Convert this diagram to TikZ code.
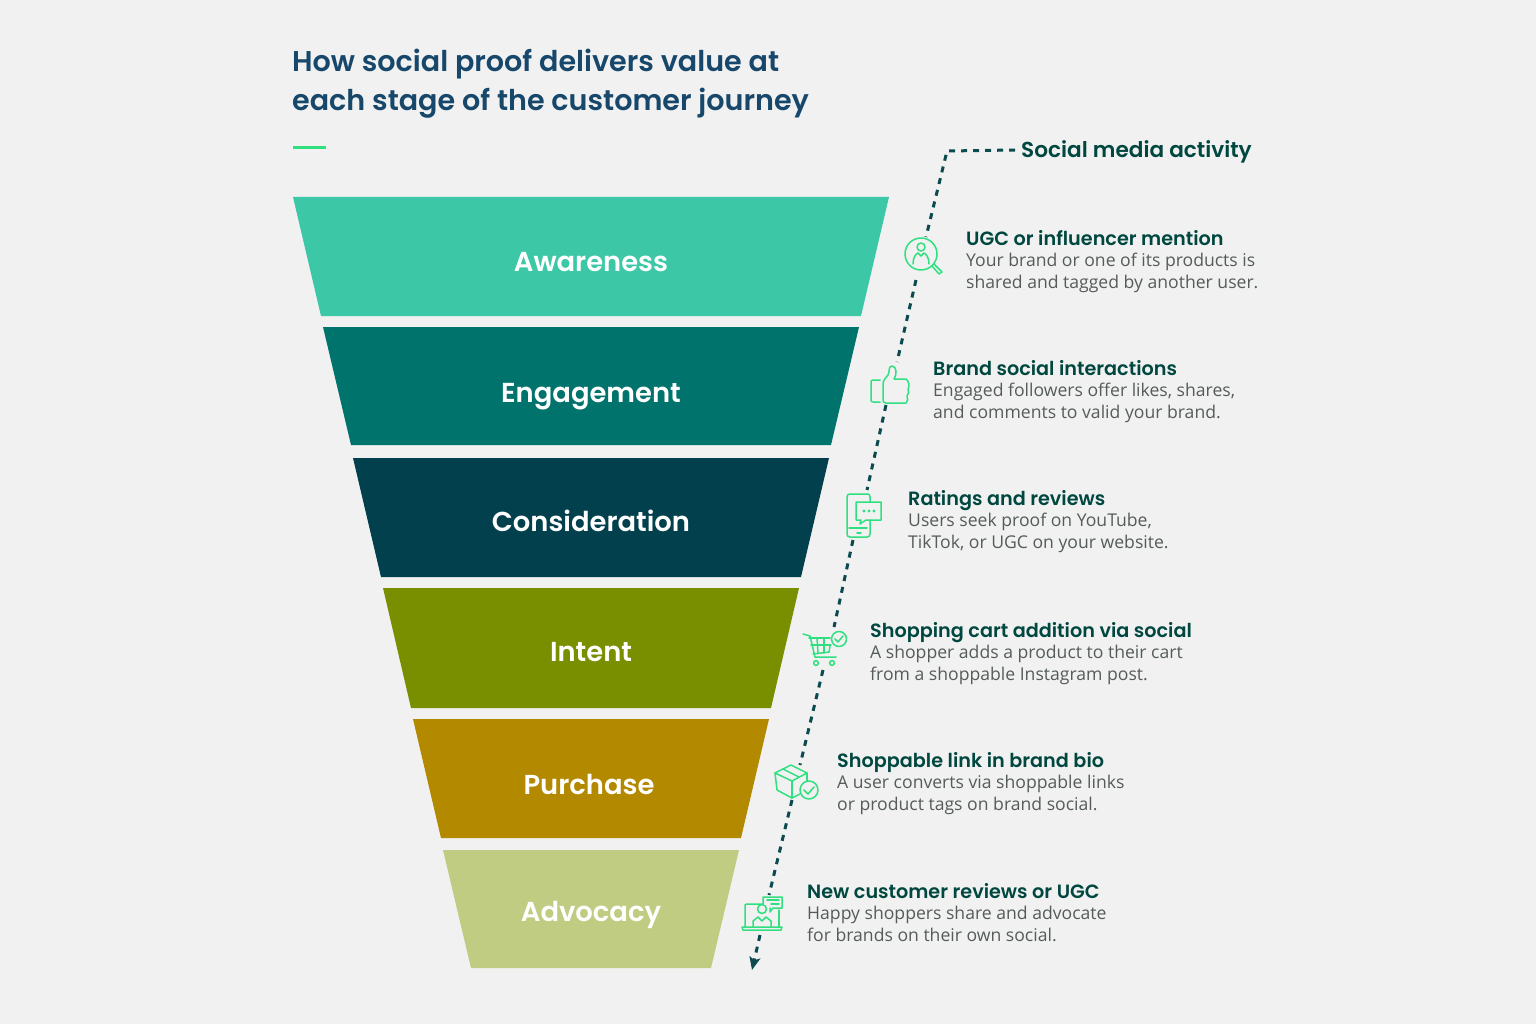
\documentclass[tikz,border=0pt]{standalone}
\usepackage{fontspec}
\setmainfont{Open Sans}
\newfontfamily\headfont{Poppins SemiBold}
\definecolor{pagebg}{HTML}{F1F1F1}
\definecolor{titleblue}{HTML}{17476A}
\definecolor{headgreen}{HTML}{00473F}
\definecolor{bodygrey}{HTML}{555B5B}
\definecolor{icongreen}{HTML}{30E080}
\definecolor{dashteal}{HTML}{0B4A4F}
\definecolor{awareC}{HTML}{3CC8A6}
\definecolor{engageC}{HTML}{01736D}
\definecolor{considerC}{HTML}{02404D}
\definecolor{intentC}{HTML}{7A8F00}
\definecolor{purchaseC}{HTML}{B38900}
\definecolor{advocacyC}{HTML}{BFCC82}
\usetikzlibrary{arrows.meta}
\tikzset{
  stagelabel/.style={anchor=base,text=white,font=\headfont\fontsize{27.4}{32}\selectfont,inner sep=0pt},
  activitytext/.style={anchor=north west,inner sep=0pt,align=left,text=bodygrey,font=\fontsize{17.6}{21.5}\selectfont},
  iconline/.style={draw=icongreen,line width=1.5pt,line join=round,line cap=round},
  journeyline/.style={draw=dashteal,line width=3pt,dash pattern=on 6pt off 6pt},
}
\newcommand{\acthead}[1]{{\headfont\fontsize{19.2}{21.5}\selectfont\color{headgreen}#1}}
\begin{document}
\begin{tikzpicture}[x=1pt,y=-1pt]
\fill[pagebg] (0,0) rectangle (1536,1024);
\useasboundingbox (0,0) rectangle (1536,1024);
% title
\node[anchor=north west,inner sep=0pt,align=left,text=titleblue,font=\headfont\fontsize{28.6}{39}\selectfont] (title) at (292,49) {How social proof delivers value at\\each stage of the customer journey};
\coordinate (ruleL) at (293,148);
\coordinate (ruleR) at (326,148);
\draw[icongreen,line width=3pt] (ruleL) -- (ruleR);
% funnel
\fill[awareC] (293,197) -- (889,197) -- (861,316) -- (321,316) -- cycle;
\fill[engageC] (323,327) -- (859,327) -- (831,445) -- (351,445) -- cycle;
\fill[considerC] (353,458) -- (829,458) -- (801,577) -- (381,577) -- cycle;
\fill[intentC] (383,588) -- (799,588) -- (771,708) -- (411,708) -- cycle;
\fill[purchaseC] (413,719) -- (769,719) -- (741,838) -- (441,838) -- cycle;
\fill[advocacyC] (443,850) -- (739,850) -- (711,968) -- (471,968) -- cycle;
\node[stagelabel] (awareness) at (591,272) {Awareness};
\node[stagelabel] (engagement) at (591,402) {Engagement};
\node[stagelabel] (consideration) at (591,531) {Consideration};
\node[stagelabel] (intent) at (591,661) {Intent};
\node[stagelabel] (purchase) at (589,794) {Purchase};
\node[stagelabel] (advocacy) at (591,921) {Advocacy};
% activity texts
\node[anchor=west,inner sep=0pt,font=\headfont\fontsize{21.6}{26}\selectfont,text=headgreen] (socialmedia) at (1021,152) {Social media activity};
\node[activitytext] (ugc) at (966,230) {\acthead{UGC or influencer mention}\\Your brand or one of its products is\\shared and tagged by another user.};
\node[activitytext] (brand) at (933,360) {\acthead{Brand social interactions}\\Engaged followers offer likes, shares,\\and comments to valid your brand.};
\node[activitytext] (ratings) at (908,490) {\acthead{Ratings and reviews}\\Users seek proof on YouTube,\\TikTok, or UGC on your website.};
\node[activitytext] (cart) at (870,622) {\acthead{Shopping cart addition via social}\\A shopper adds a product to their cart\\from a shoppable Instagram post.};
\node[activitytext] (link) at (837,752) {\acthead{Shoppable link in brand bio}\\A user converts via shoppable links\\or product tags on brand social.};
\node[activitytext] (newcust) at (807,883) {\acthead{New customer reviews or UGC}\\Happy shoppers share and advocate\\for brands on their own social.};
% journey line
\coordinate (lineA) at (1015,150);
\coordinate (lineB) at (947,151);
\coordinate (lineC) at (926,237);
\coordinate (lineD) at (916,280);
\coordinate (lineE) at (897,362);
\coordinate (lineF) at (886,405);
\coordinate (lineG) at (867,490);
\coordinate (lineH) at (853,540);
\coordinate (lineI) at (834,627);
\coordinate (lineJ) at (823,670);
\coordinate (lineK) at (800,765);
\coordinate (lineL) at (792,800);
\coordinate (lineM) at (769,895);
\coordinate (lineN) at (760,935);
\coordinate (lineO) at (752,970);
\draw[journeyline] (lineA) -- (lineB) -- (lineC);
\draw[journeyline] (lineD) -- (lineE);
\draw[journeyline] (lineF) -- (lineG);
\draw[journeyline] (lineH) -- (lineI);
\draw[journeyline] (lineJ) -- (lineK);
\draw[journeyline] (lineL) -- (lineM);
\draw[journeyline,-{Stealth[length=13pt,width=11pt,inset=3pt]}] (lineN) -- (lineO);
% magnifier icon
\draw[iconline] (921,254) circle (16);
\draw[iconline] (921,247) circle (4);
\draw[iconline] (913,264) .. controls (913,257) and (916,254) .. (918,253) -- (921,256) -- (924,253) .. controls (926,254) and (929,257) .. (929,264);
\draw[iconline] (932,266) -- (939,274) -- (942,272) -- (934,264);
% thumb icon
\draw[iconline] (880,380) -- (873,380) .. controls (871,380) and (871,381) .. (871,383) -- (871,399) .. controls (871,401) and (871,402) .. (873,402) -- (880,402);
\draw[iconline] (892,366) .. controls (888,366) and (890,372) .. (888,375) .. controls (886,378) and (883,380) .. (883,384) -- (883,400) .. controls (883,402) and (884,403) .. (886,403) -- (906,403) .. controls (908,401) and (908,399) .. (907,396) .. controls (909,394) and (909,391) .. (908,389) .. controls (910,387) and (909,381) .. (906,379) -- (894,379) .. controls (897,375) and (897,366) .. (892,366);
% phone icon
\draw[iconline] (868,494) -- (850,494) .. controls (848,494) and (847,495) .. (847,497) -- (847,534) .. controls (847,536) and (848,537) .. (850,537) -- (867,537) .. controls (869,537) and (870,536) .. (870,534) -- (870,520);
\draw[iconline] (870,502) -- (870,497) .. controls (870,495) and (869,494) .. (868,494);
\draw[iconline] (856,502) -- (881,502) -- (881,520) -- (866,520) -- (860,524) -- (861,520) -- (856,520) -- cycle;
\fill[icongreen] (864,511) circle (1.6) (869,511) circle (1.6) (874,511) circle (1.6);
\draw[iconline] (849,528) -- (867,528);
\draw[iconline] (857,533) -- (861,533);
% cart icon
\draw[iconline] (803,634) -- (810,636) -- (815,657) -- (836,657);
\draw[iconline] (809,638) -- (830,638);
\draw[iconline] (830,646) -- (829,652) -- (813,654);
\draw[iconline] (811,645) -- (831,645);
\draw[iconline] (817,638) -- (818,653);
\draw[iconline] (824,638) -- (824,653);
\draw[iconline] (816,663) circle (2.4);
\draw[iconline] (832,663) circle (2.4);
\draw[iconline] (839,639) circle (7.5);
\draw[iconline] (835,639) -- (838,642) -- (843,636);
% box icon
\draw[iconline] (775,773) -- (791,765) -- (807,773) -- (792,781) -- cycle;
\draw[iconline] (775,773) -- (777,790) -- (792,798) -- (800,794);
\draw[iconline] (792,781) -- (792,798);
\draw[iconline] (807,773) -- (807,781);
\draw[iconline] (783,769) -- (799,777);
\draw[iconline] (809,790) circle (9);
\draw[iconline] (804,790) -- (808,794) -- (814,787);
% laptop icon
\draw[iconline] (742,927) -- (782,927) -- (781,930) -- (743,930) -- cycle;
\draw[iconline] (745,927) -- (745,906) .. controls (745,905) and (745,904) .. (747,904) -- (762,904);
\draw[iconline] (779,910) -- (779,927);
\draw[iconline] (763,904) -- (763,897) -- (782,897) -- (782,908) -- (773,908) -- (770,912) -- (770,908);
\draw[iconline] (767,900) -- (779,900);
\draw[iconline] (771,904) -- (779,904);
\draw[iconline] (762,909) circle (4.5);
\draw[iconline] (753,927) -- (753,921) -- (758,917) -- (762,921) -- (766,917) -- (771,921) -- (771,927);
\end{tikzpicture}
\end{document}
